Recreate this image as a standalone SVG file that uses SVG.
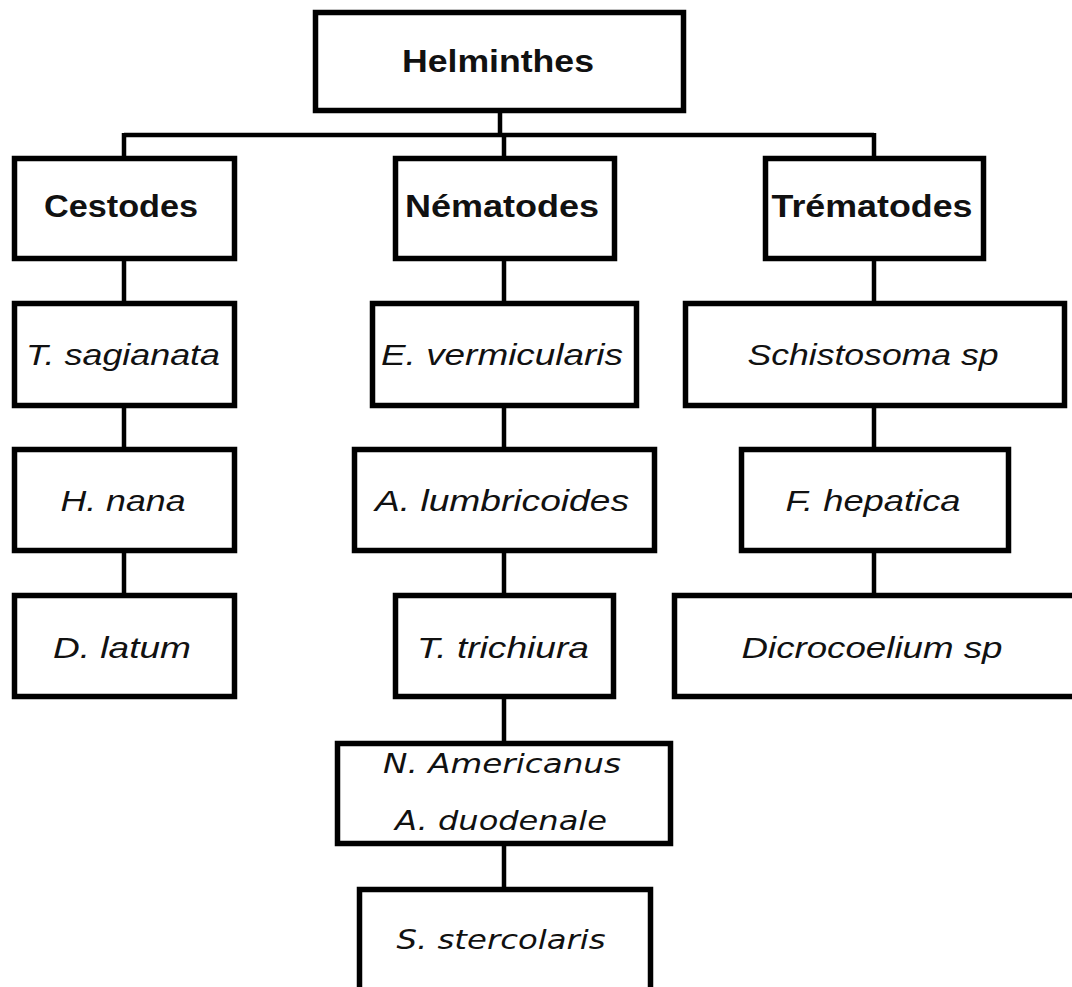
<svg xmlns="http://www.w3.org/2000/svg" width="1072" height="987" viewBox="0 0 1072 987">
<style>
.box{fill:#fff;stroke:#000;stroke-width:5.5}
.ln{stroke:#000;stroke-width:4.5;fill:none}
.b{font-family:"Liberation Sans",Arial,sans-serif;font-weight:bold;font-size:31px;fill:#111;text-anchor:middle}
.i{font-family:"Liberation Sans",Arial,sans-serif;font-style:italic;font-size:30px;fill:#111;text-anchor:middle}
.v{font-family:"DejaVu Sans","Liberation Sans",sans-serif;font-style:italic;font-size:27px;fill:#111;text-anchor:middle}
</style>
<rect width="1072" height="987" fill="#fff"/>
<g id="connectors">
<path class="ln" d="M500 112V135M124 135H874M124 133V158M504 133V158M874 133V158"/>
<path class="ln" d="M124 259V303M124 406V449M124 552V595"/>
<path class="ln" d="M504 259V303M504 406V449M504 552V595M504 698V743M504 845V889"/>
<path class="ln" d="M874 259V303M874 406V449M874 552V595"/>
</g>
<g id="helminthes"><rect class="box" x="315.5" y="12.5" width="368" height="98"/><text class="b" x="498" y="72" textLength="192" lengthAdjust="spacingAndGlyphs">Helminthes</text></g>
<g id="cestodes"><rect class="box" x="14.5" y="158.5" width="220" height="100"/><text class="b" x="121" y="217" textLength="154" lengthAdjust="spacingAndGlyphs">Cestodes</text></g>
<g id="nematodes"><rect class="box" x="395.5" y="158.5" width="219" height="100"/><text class="b" x="502" y="217" textLength="194" lengthAdjust="spacingAndGlyphs">Nématodes</text></g>
<g id="trematodes"><rect class="box" x="765.5" y="158.5" width="218" height="100"/><text class="b" x="872" y="217" textLength="201" lengthAdjust="spacingAndGlyphs">Trématodes</text></g>
<g id="t-sagianata"><rect class="box" x="14.5" y="303.5" width="220" height="102"/><text class="i" x="123" y="365" textLength="194" lengthAdjust="spacingAndGlyphs">T. sagianata</text></g>
<g id="e-vermicularis"><rect class="box" x="372.5" y="303.5" width="264" height="102"/><text class="i" x="502" y="365" textLength="242" lengthAdjust="spacingAndGlyphs">E. vermicularis</text></g>
<g id="schistosoma"><rect class="box" x="685.5" y="303.5" width="379" height="102"/><text class="i" x="873" y="365" textLength="251" lengthAdjust="spacingAndGlyphs">Schistosoma sp</text></g>
<g id="h-nana"><rect class="box" x="14.5" y="449.5" width="220" height="101"/><text class="i" x="123" y="511" textLength="125" lengthAdjust="spacingAndGlyphs">H. nana</text></g>
<g id="a-lumbricoides"><rect class="box" x="354.5" y="449.5" width="300" height="101"/><text class="i" x="502" y="511" textLength="254" lengthAdjust="spacingAndGlyphs">A. lumbricoides</text></g>
<g id="f-hepatica"><rect class="box" x="741.5" y="449.5" width="267" height="101"/><text class="i" x="873" y="511" textLength="175" lengthAdjust="spacingAndGlyphs">F. hepatica</text></g>
<g id="d-latum"><rect class="box" x="14.5" y="595.5" width="220" height="101"/><text class="i" x="122" y="658" textLength="138" lengthAdjust="spacingAndGlyphs">D. latum</text></g>
<g id="t-trichiura"><rect class="box" x="395.5" y="595.5" width="218" height="101"/><text class="i" x="503" y="658" textLength="172" lengthAdjust="spacingAndGlyphs">T. trichiura</text></g>
<g id="dicrocoelium"><rect class="box" x="674.5" y="595.5" width="410" height="101"/><text class="i" x="872" y="658" textLength="261" lengthAdjust="spacingAndGlyphs">Dicrocoelium sp</text></g>
<g id="n-americanus"><rect class="box" x="337.5" y="743.5" width="333" height="100"/><text class="v" x="502" y="773" textLength="238" lengthAdjust="spacingAndGlyphs">N. Americanus</text><text class="v" x="501" y="830" textLength="212" lengthAdjust="spacingAndGlyphs">A. duodenale</text></g>
<g id="s-stercolaris"><rect class="box" x="359.5" y="889.5" width="291" height="110"/><text class="v" x="501" y="949" textLength="209" lengthAdjust="spacingAndGlyphs">S. stercolaris</text></g>
</svg>
